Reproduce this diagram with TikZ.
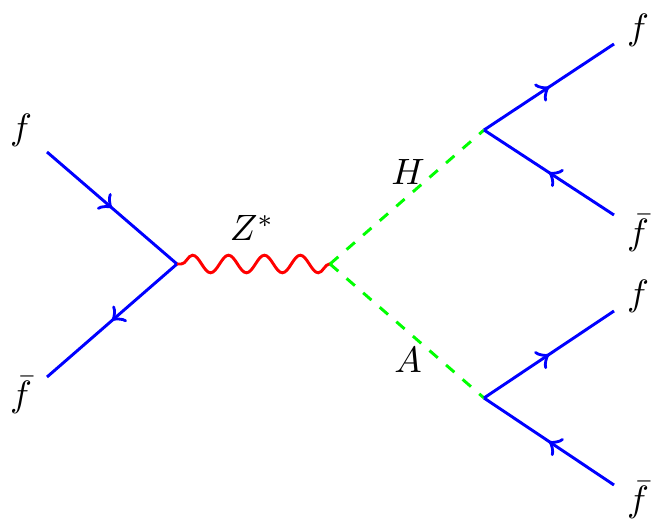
\documentclass[tikz,border=0pt]{standalone}
\usetikzlibrary{decorations.pathmorphing,decorations.markings}
\begin{document}
\begin{tikzpicture}[x=0.273pt,y=-0.273pt,
    fermion/.style={draw=blue,thick,postaction={decorate},
        decoration={markings,mark=at position 0.5 with {\arrow[blue,scale=1.2]{>}}}},
    photon/.style={draw=red,thick,decorate,
        decoration={snake,amplitude=2.4pt,segment length=9.8pt,pre length=1.2pt,post length=0pt}},
    scalar/.style={draw=green,thick,dashed},
    lbl/.style={inner sep=0pt}]
\useasboundingbox (0,0) rectangle (663,532);
    %Vertices
    \coordinate (v1) at (177,264);
    \coordinate (v2) at (330,264);
    \coordinate (vh) at (484,130);
    \coordinate (va) at (484,398);
    %Extremos externos
    \coordinate (fi) at (47,152);
    \coordinate (fbi) at (47,377);
    \coordinate (fh) at (614,44);
    \coordinate (fbh) at (614,215);
    \coordinate (fa) at (614,311);
    \coordinate (fba) at (614,485);

    %Lineas
    \draw[fermion] (fi) -- (v1);
    \draw[fermion] (v1) -- (fbi);
    \draw[photon] (v1) -- (v2);
    \draw[scalar] (v2) -- (vh);
    \draw[scalar] (v2) -- (va);
    \draw[fermion] (vh) -- (fh);
    \draw[fermion] (fbh) -- (vh);
    \draw[fermion] (va) -- (fa);
    \draw[fermion] (fba) -- (va);

    %Etiquetas
    \node[lbl] (lfi) at (21,130) {$f$};
    \node[lbl] (lfbi) at (21,395) {$\bar f$};
    \node[lbl] (lz) at (252,228) {$Z^*$};
    \node[lbl] (lh) at (408,172) {$H$};
    \node[lbl] (la) at (408,360) {$A$};
    \node[lbl] (lfh) at (638,30) {$f$};
    \node[lbl] (lfbh) at (638,233) {$\bar f$};
    \node[lbl] (lfa) at (638,296) {$f$};
    \node[lbl] (lfba) at (638,500) {$\bar f$};
\end{tikzpicture}
\end{document}
